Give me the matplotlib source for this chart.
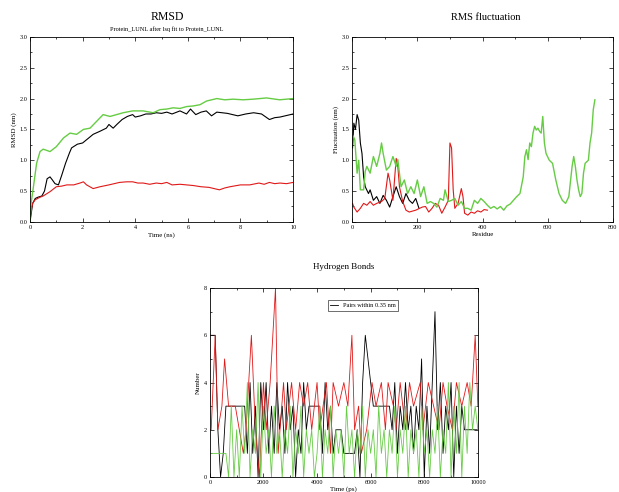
from matplotlib import pyplot as plt
from matplotlib.ticker import MultipleLocator

# RMSD (ns, nm)
rmsd_black_t = [0.0, 0.05, 0.1, 0.2, 0.3, 0.45, 0.55, 0.65, 0.76, 0.85, 0.95, 1.08, 1.2, 1.35, 1.5, 1.58, 1.8, 2.0,
                2.2, 2.4, 2.66, 2.9, 3.0, 3.16, 3.3, 3.5, 3.7, 3.9, 4.0, 4.2, 4.4, 4.6, 4.8, 5.0, 5.2, 5.4, 5.7,
                5.95, 6.1, 6.3, 6.5, 6.7, 6.9, 7.1, 7.3, 7.5, 7.7, 7.9, 8.2, 8.5, 8.8, 9.1, 9.3, 9.5, 9.7, 10.0]
rmsd_black = [0.0, 0.15, 0.3, 0.38, 0.4, 0.42, 0.5, 0.7, 0.73, 0.68, 0.62, 0.6, 0.75, 0.95, 1.12, 1.2, 1.26, 1.28,
              1.35, 1.42, 1.47, 1.52, 1.58, 1.52, 1.58, 1.66, 1.71, 1.74, 1.7, 1.72, 1.75, 1.75, 1.77, 1.76, 1.78,
              1.75, 1.8, 1.75, 1.83, 1.74, 1.78, 1.8, 1.72, 1.78, 1.77, 1.76, 1.74, 1.72, 1.75, 1.77, 1.75, 1.66,
              1.69, 1.7, 1.72, 1.75]
rmsd_red_t = [0.0, 0.05, 0.1, 0.2, 0.38, 0.5, 0.76, 1.0, 1.2, 1.4, 1.66, 1.9, 2.03, 2.15, 2.4, 2.66, 3.0, 3.2, 3.4,
              3.67, 3.9, 4.1, 4.3, 4.55, 4.8, 5.0, 5.2, 5.4, 5.7, 5.95, 6.2, 6.5, 6.8, 7.0, 7.2, 7.4, 7.6, 8.0,
              8.35, 8.7, 8.9, 9.1, 9.3, 9.5, 9.75, 10.0]
rmsd_red = [0.05, 0.2, 0.3, 0.36, 0.4, 0.42, 0.49, 0.57, 0.58, 0.6, 0.6, 0.63, 0.65, 0.6, 0.54, 0.57, 0.6, 0.62,
            0.64, 0.65, 0.65, 0.63, 0.63, 0.61, 0.63, 0.62, 0.64, 0.6, 0.61, 0.6, 0.59, 0.57, 0.56, 0.54, 0.52,
            0.55, 0.57, 0.6, 0.6, 0.63, 0.61, 0.64, 0.62, 0.63, 0.62, 0.64]
rmsd_green_t = [0.0, 0.04, 0.13, 0.25, 0.38, 0.5, 0.76, 1.0, 1.27, 1.52, 1.77, 2.03, 2.28, 2.53, 2.78, 3.04, 3.29,
                3.54, 3.9, 4.3, 4.68, 4.94, 5.2, 5.44, 5.7, 5.95, 6.2, 6.46, 6.71, 7.1, 7.4, 7.72, 8.1, 8.48, 8.99,
                9.49, 10.0]
rmsd_green = [0.0, 0.3, 0.57, 0.95, 1.14, 1.18, 1.14, 1.22, 1.36, 1.44, 1.42, 1.5, 1.52, 1.63, 1.74, 1.71, 1.74,
              1.77, 1.8, 1.8, 1.77, 1.82, 1.83, 1.85, 1.84, 1.87, 1.88, 1.9, 1.96, 2.0, 1.98, 1.99, 1.98, 1.99, 2.01,
              1.98, 2.0]

# RMS fluctuation (residue, nm)
rmsf_black_r = [1, 5, 10, 15, 20, 25, 30, 35, 40, 50, 55, 65, 75, 85, 95, 105, 115, 125, 135, 145, 155, 165, 175,
                185, 195, 205]
rmsf_black = [1.2, 1.6, 1.5, 1.74, 1.65, 1.28, 1.11, 0.73, 0.57, 0.46, 0.52, 0.35, 0.41, 0.3, 0.43, 0.35, 0.24,
              0.41, 0.57, 0.41, 0.3, 0.46, 0.35, 0.3, 0.38, 0.22]
rmsf_red_r = [1, 5, 15, 25, 35, 45, 55, 65, 75, 90, 100, 110, 115, 125, 135, 140, 145, 155, 165, 175, 195, 215,
              225, 235, 245, 255, 265, 275, 285, 295, 300, 305, 310, 315, 325, 335, 340, 345, 355, 365, 375, 385,
              395, 405, 415]
rmsf_red = [0.3, 0.24, 0.16, 0.22, 0.3, 0.27, 0.33, 0.27, 0.3, 0.33, 0.38, 0.79, 0.68, 0.35, 1.03, 0.9, 0.57,
            0.33, 0.19, 0.16, 0.19, 0.24, 0.25, 0.16, 0.22, 0.3, 0.27, 0.14, 0.24, 0.35, 1.28, 1.2, 0.52, 0.22,
            0.3, 0.54, 0.41, 0.14, 0.11, 0.16, 0.14, 0.18, 0.16, 0.2, 0.19]
rmsf_green_r = [3, 8, 15, 20, 25, 35, 40, 45, 55, 65, 75, 85, 90, 95, 105, 115, 125, 135, 140, 150, 160, 170, 180,
                190, 200, 210, 220, 230, 240, 250, 260, 270, 280, 285, 295, 305, 315, 325, 335, 345, 355, 365, 375,
                385, 395, 405, 415, 425, 435, 445, 455, 465, 475, 485, 495, 505, 515, 525, 530, 535, 540, 545, 550,
                555, 560, 565, 570, 575, 580, 585, 590, 595, 605, 615, 625, 635, 645, 655, 665, 675, 680, 685, 690,
                695, 700, 705, 710, 715, 725, 730, 735, 740, 745]
rmsf_green = [1.39, 1.33, 0.79, 1.0, 0.52, 0.52, 0.82, 0.9, 0.79, 1.06, 0.9, 1.11, 1.28, 1.11, 0.84, 0.9, 1.06,
              0.9, 1.01, 0.57, 0.68, 0.46, 0.57, 0.46, 0.68, 0.41, 0.57, 0.3, 0.33, 0.3, 0.24, 0.38, 0.35, 0.52,
              0.33, 0.35, 0.38, 0.27, 0.33, 0.22, 0.22, 0.19, 0.35, 0.3, 0.38, 0.33, 0.27, 0.22, 0.25, 0.21, 0.25,
              0.19, 0.26, 0.29, 0.35, 0.41, 0.46, 0.73, 1.06, 1.17, 1.01, 1.28, 1.22, 1.44, 1.55, 1.49, 1.52, 1.47,
              1.44, 1.71, 1.28, 1.11, 1.0, 0.95, 0.68, 0.46, 0.35, 0.3, 0.41, 0.9, 1.06, 0.9, 0.68, 0.52, 0.41,
              0.46, 0.79, 0.95, 1.0, 1.28, 1.44, 1.82, 1.98]

# Hydrogen bonds (ps, count)
hb_black_t = [0, 200, 300, 400, 500, 600, 1000, 1300, 1400, 1500, 1600, 1700, 1800, 1900, 2000, 2100, 2200, 2300,
              2400, 2500, 2600, 2700, 2800, 2900, 3000, 3100, 3200, 3300, 3400, 3500, 3600, 3700, 3800, 4100,
              4200, 4300, 4400, 4500, 4600, 4700, 4900, 5000, 5400, 5500, 5600, 5700, 5800, 5900, 6000, 6100,
              6700, 6800, 6900, 7000, 7100, 7200, 7300, 7400, 7500, 7600, 7700, 7800, 7900, 8000, 8100, 8200,
              8300, 8400, 8500, 8600, 8700, 8800, 8900, 9000, 9100, 9200, 9300, 9400, 9500, 10000]
hb_black = [6, 6, 2, 0, 1, 3, 3, 3, 1, 4, 1, 3, 0, 4, 2, 4, 1, 3, 1, 4, 2, 3, 1, 4, 2, 3, 0, 2, 1, 4, 2, 3, 3, 3,
            1, 4, 2, 3, 1, 2, 2, 1, 1, 2, 0, 4, 6, 5, 4, 3, 3, 2, 4, 1, 3, 2, 4, 2, 3, 1, 3, 2, 5, 0, 3, 1, 4, 7,
            2, 4, 1, 3, 2, 4, 0, 3, 1, 3, 2, 2]
hb_red_t = [0, 50, 200, 300, 450, 550, 700, 950, 1250, 1350, 1550, 1700, 1850, 2000, 2100, 2250, 2450, 2550, 2750,
            2850, 3050, 3200, 3350, 3500, 3650, 3800, 4000, 4100, 4350, 4500, 4600, 4800, 5000, 5150, 5300, 5400,
            5550, 5650, 5850, 6050, 6200, 6400, 6550, 6650, 6850, 6950, 7100, 7300, 7450, 7600, 7850, 7950, 8150,
            8350, 8550, 8700, 8850, 9050, 9200, 9400, 9600, 9750, 9900, 10000]
hb_red = [2, 2, 6, 2, 3, 5, 3, 3, 1, 2, 6, 2, 0, 4, 2, 4, 8, 1, 4, 2, 4, 2, 4, 3, 4, 2, 4, 2, 4, 1, 4, 3, 4, 3, 6,
          2, 3, 1, 2, 4, 3, 4, 2, 4, 3, 2, 4, 2, 4, 3, 4, 2, 4, 3, 2, 4, 3, 2, 4, 3, 4, 3, 6, 3]
hb_green_t = [0, 600, 700, 800, 900, 1000, 1100, 1200, 1300, 1400, 1500, 1600, 1700, 1800, 1900, 2000, 2100, 2200,
              2300, 2400, 2500, 2600, 2700, 2800, 2900, 3000, 3100, 3200, 3300, 3400, 3500, 3600, 3700, 3800,
              3900, 4000, 4100, 4200, 4300, 4400, 4500, 4600, 4700, 4800, 4900, 5000, 5100, 5200, 5300, 5400,
              5500, 5600, 5700, 5800, 5900, 6000, 6100, 6200, 6300, 6400, 6500, 6600, 6700, 6800, 6900, 7000,
              7100, 7200, 7300, 7400, 7500, 7600, 7700, 7800, 7900, 8000, 8100, 8200, 8300, 8400, 8500, 8600,
              8700, 8800, 8900, 9000, 9100, 9200, 9300, 9400, 9500, 9600, 9700, 9800, 9900, 10000]
hb_green = [1, 1, 0, 3, 0, 2, 0, 3, 1, 4, 0, 2, 1, 4, 0, 3, 1, 2, 0, 3, 1, 2, 0, 2, 1, 3, 0, 2, 1, 3, 0, 2, 1, 2,
            0, 1, 3, 0, 2, 1, 3, 0, 2, 1, 2, 0, 3, 1, 2, 0, 2, 1, 3, 0, 2, 1, 2, 0, 3, 1, 2, 0, 2, 1, 3, 0, 2, 1,
            3, 0, 2, 1, 2, 0, 3, 1, 2, 0, 2, 1, 3, 0, 2, 1, 4, 0, 3, 1, 4, 0, 3, 1, 4, 2, 3, 2]

RED = '#e01818'
GREEN = '#66cc44'
FONT = 'Liberation Serif'


def grace_axes(ax, xmaj, xmin, ymaj, ymin):
    ax.xaxis.set_major_locator(MultipleLocator(xmaj))
    ax.xaxis.set_minor_locator(MultipleLocator(xmin))
    ax.yaxis.set_major_locator(MultipleLocator(ymaj))
    ax.yaxis.set_minor_locator(MultipleLocator(ymin))
    ax.tick_params(which='both', direction='in', top=True, right=True, labelsize=4.5, pad=2, width=0.5)
    ax.tick_params(which='major', length=3)
    ax.tick_params(which='minor', length=1.5)
    for s in ax.spines.values():
        s.set_linewidth(0.6)
    for lab in ax.get_xticklabels() + ax.get_yticklabels():
        lab.set_family(FONT)


plt.rcParams['font.family'] = FONT
fig = plt.figure(figsize=(6.19, 4.92), dpi=100)

ax1 = fig.add_axes([0.0485, 0.549, 0.425, 0.376])
ax1.plot(rmsd_black_t, rmsd_black, color='k', lw=0.8)
ax1.plot(rmsd_red_t, rmsd_red, color=RED, lw=0.8)
ax1.plot(rmsd_green_t, rmsd_green, color=GREEN, lw=1.0)
ax1.set_xlim(0, 10)
ax1.set_ylim(0, 3)
grace_axes(ax1, 2, 1, 0.5, 0.25)
ax1.set_xlabel('Time (ns)', fontsize=5, labelpad=2)
ax1.set_ylabel('RMSD (nm)', fontsize=5, labelpad=2)
fig.text(0.27, 0.965, 'RMSD', ha='center', va='center', fontsize=8.5)
fig.text(0.27, 0.94, 'Protein_LUNL after lsq fit to Protein_LUNL', ha='center', va='center', fontsize=4.5)

ax2 = fig.add_axes([0.569, 0.549, 0.421, 0.376])
ax2.plot(rmsf_black_r, rmsf_black, color='k', lw=0.8)
ax2.plot(rmsf_red_r, rmsf_red, color=RED, lw=0.8)
ax2.plot(rmsf_green_r, rmsf_green, color=GREEN, lw=1.0)
ax2.set_xlim(0, 800)
ax2.set_ylim(0, 3)
grace_axes(ax2, 200, 100, 0.5, 0.25)
ax2.set_xlabel('Residue', fontsize=5, labelpad=2)
ax2.set_ylabel('Fluctuation (nm)', fontsize=5, labelpad=2)
fig.text(0.785, 0.965, 'RMS fluctuation', ha='center', va='center', fontsize=7.5)

ax3 = fig.add_axes([0.339, 0.0305, 0.433, 0.384])
ax3.plot(hb_black_t, hb_black, color='k', lw=0.6, label='Pairs within 0.35 nm')
ax3.plot(hb_red_t, hb_red, color=RED, lw=0.6)
ax3.plot(hb_green_t, hb_green, color=GREEN, lw=0.6)
ax3.set_xlim(0, 10000)
ax3.set_ylim(0, 8)
grace_axes(ax3, 2000, 1000, 2, 1)
ax3.set_xlabel('Time (ps)', fontsize=5, labelpad=1)
ax3.set_ylabel('Number', fontsize=5, labelpad=2)
leg = ax3.legend(loc='upper left', bbox_to_anchor=(0.44, 0.935), fontsize=4.5, frameon=True, fancybox=False,
                 edgecolor='k', handlelength=1.2, borderpad=0.4, borderaxespad=0)
leg.get_frame().set_linewidth(0.5)
fig.text(0.555, 0.457, 'Hydrogen Bonds', ha='center', va='center', fontsize=6.5)

plt.savefig('out.png', dpi=100)
